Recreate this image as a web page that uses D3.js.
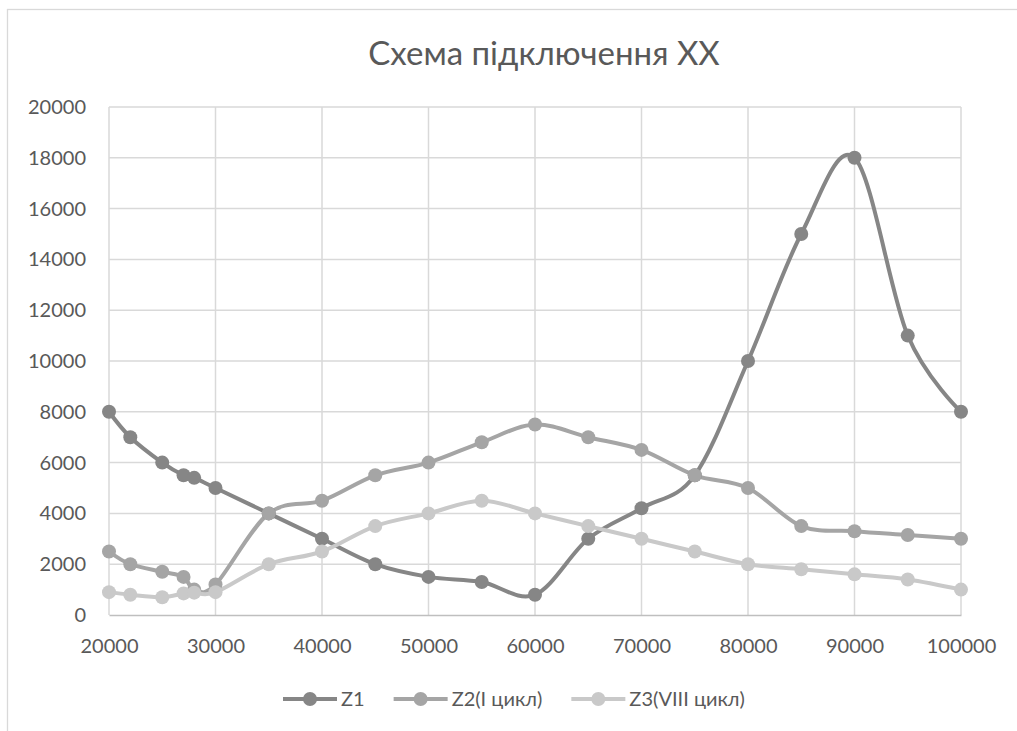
<!DOCTYPE html>
<html><head><meta charset="utf-8">
<script src="https://cdn.jsdelivr.net/npm/d3@7"></script>
<style>
body{margin:0;background:#fff}
text{font-family:Lato,"Open Sans",sans-serif;fill:#595959}
</style>
</head><body>
<svg id="chart" width="1017" height="731"></svg>
<script>
const title = "Схема підключення ХХ";
const xValues = [20000,22000,25000,27000,28000,30000,35000,40000,45000,50000,55000,60000,65000,70000,75000,80000,85000,90000,95000,100000];
const z1 = [8000,7000,6000,5500,5400,5000,4000,3000,2000,1500,1300,800,3000,4200,5500,10000,15000,18000,11000,8000];
const z2 = [2500,2000,1700,1500,1000,1200,4000,4500,5500,6000,6800,7500,7000,6500,5500,5000,3500,3300,3150,3000];
const z3 = [900,800,700,850,880,900,2000,2500,3500,4000,4500,4000,3500,3000,2500,2000,1800,1600,1400,1000];
const seriesNames = ["Z1","Z2(I цикл)","Z3(VIII цикл)"];
const seriesColors = ["#868686","#a5a5a5","#c9c9c9"];
const xTicks = [20000,30000,40000,50000,60000,70000,80000,90000,100000];
const yTicks = [0,2000,4000,6000,8000,10000,12000,14000,16000,18000,20000];

const svg = d3.select("#chart");
const series = [z1,z2,z3].map((vals,i)=>({name:seriesNames[i],color:seriesColors[i],
  points:vals.map((v,j)=>({x:xValues[j],y:v}))}));

// chart border
svg.append("rect").attr("x",7.5).attr("y",9.5).attr("width",1100).attr("height",900)
  .attr("fill","#fff").attr("stroke","#d9d9d9").attr("stroke-width",1.3);

const x = d3.scaleLinear().domain([20000,100000]).range([109,961]);
const y = d3.scaleLinear().domain([0,20000]).range([615,107]);

// gridlines
svg.append("g").selectAll("line.h").data(yTicks.filter(d=>d>0)).join("line")
  .attr("x1",x.range()[0]).attr("x2",x.range()[1]).attr("y1",d=>y(d)).attr("y2",d=>y(d))
  .attr("stroke","#d9d9d9").attr("stroke-width",1.5);
svg.append("g").selectAll("line.v").data(xTicks).join("line")
  .attr("x1",d=>x(d)).attr("x2",d=>x(d)).attr("y1",y.range()[1]).attr("y2",y.range()[0])
  .attr("stroke","#d9d9d9").attr("stroke-width",1.5);

// axes
const xAxis = d3.axisBottom(x).tickValues(xTicks).tickSize(0).tickPadding(22).tickFormat(d3.format("d"));
const gx = svg.append("g").attr("transform",`translate(0,${y(0)})`).call(xAxis);
gx.select(".domain").attr("stroke","#bfbfbf").attr("stroke-width",1.5);
gx.selectAll("text").attr("font-size",20).attr("dy","0.32em").attr("y",32).style("fill","#595959");

const yAxis = d3.axisLeft(y).tickValues(yTicks).tickSize(0).tickPadding(23).tickFormat(d3.format("d"));
const gy = svg.append("g").attr("transform",`translate(${x(20000)},0)`).call(yAxis);
gy.select(".domain").remove();
gy.selectAll("text").attr("font-size",20).style("fill","#595959");

// title
svg.append("text").attr("x",544).attr("y",65).attr("text-anchor","middle")
  .attr("font-size",33).attr("font-weight",400).text(title);

// lines
const line = d3.line().x(d=>x(d.x)).y(d=>y(d.y)).curve(d3.curveCardinal.tension(0));
series.forEach(s=>{
  svg.append("path").datum(s.points).attr("d",line).attr("fill","none")
    .attr("stroke",s.color).attr("stroke-width",4).attr("stroke-linejoin","round").attr("stroke-linecap","round");
});
series.forEach(s=>{
  svg.append("g").selectAll("circle").data(s.points).join("circle")
    .attr("cx",d=>x(d.x)).attr("cy",d=>y(d.y)).attr("r",7).attr("fill",s.color);
});

// legend
const legY = 699;
let lx = 283;
series.forEach(s=>{
  const g = svg.append("g");
  g.append("line").attr("x1",lx).attr("x2",lx+54).attr("y1",legY).attr("y2",legY)
    .attr("stroke",s.color).attr("stroke-width",4);
  g.append("circle").attr("cx",lx+27).attr("cy",legY).attr("r",7).attr("fill",s.color);
  const t = g.append("text").attr("x",lx+58).attr("y",legY).attr("dy","0.35em")
    .attr("font-size",20).text(s.name);
  lx += 58 + t.node().getComputedTextLength() + 29;
});
</script>
</body></html>
